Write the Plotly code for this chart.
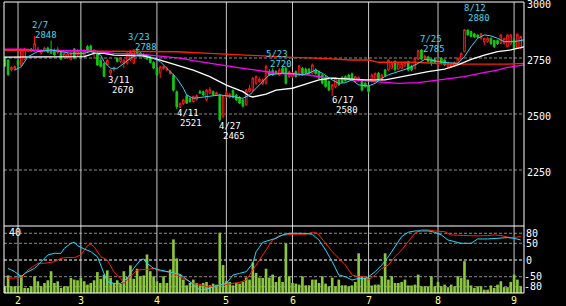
import plotly.graph_objects as go

# ---------------- data ----------------
open_ = [2752,2741,2697,2700,2740,2716,2745,2780,2790,2780,2780,2772,2785,2795,2788,2786,2775,2775,2752,2750,
         2742,2790,2764,2788,2760,2801,2804,2772,2772,2740,2725,2720,2682,2697,2749,2734,2726,2727,2741,2727,
         2785,2772,2765,2760,2750,2730,2705,2682,2703,2696,2680,2672,2600,2530,2546,2582,2570,2555,2565,2600,
         2600,2563,2593,2600,2585,2585,2488,2578,2575,2605,2585,2574,2563,2541,2600,2607,2637,2645,2635,2637,
         2690,2694,2690,2674,2704,2704,2667,2665,2689,2674,2704,2700,2700,2682,2697,2689,2674,2664,2645,2610,
         2622,2652,2664,2667,2674,2679,2645,2650,2645,2637,2625,2645,2645,2682,2652,2697,2697,2704,2734,2700,
         2704,2715,2734,2712,2704,2745,2786,2752,2755,2744,2744,2719,2749,2741,2712,2710,2715,2727,2745,2779,
         2875,2868,2858,2853,2838,2823,2823,2838,2828,2828,2816,2816,2801,2813,2831,2794,2794]
high_ = [2758,2745,2712,2716,2745,2790,2795,2792,2795,2848,2800,2790,2800,2800,2828,2792,2800,2780,2775,2772,
         2778,2795,2790,2831,2790,2808,2810,2790,2776,2745,2730,2745,2700,2712,2752,2752,2745,2776,2785,2788,
         2788,2778,2772,2765,2755,2735,2710,2715,2716,2712,2695,2680,2605,2550,2568,2588,2575,2582,2588,2608,
         2605,2612,2620,2605,2600,2590,2585,2605,2595,2610,2590,2580,2566,2612,2630,2665,2672,2665,2660,2720,
         2700,2704,2695,2705,2712,2712,2695,2688,2695,2720,2710,2708,2705,2725,2704,2694,2680,2670,2650,2635,
         2665,2658,2668,2672,2680,2685,2670,2668,2650,2642,2630,2680,2685,2688,2680,2700,2745,2735,2740,2732,
         2730,2735,2738,2720,2752,2785,2790,2765,2760,2748,2750,2748,2752,2745,2730,2728,2735,2752,2775,2880,
         2878,2872,2862,2856,2862,2840,2845,2842,2832,2832,2856,2840,2856,2856,2838,2860,2850]
low_ = [2710,2670,2690,2695,2712,2712,2740,2776,2778,2776,2776,2765,2780,2772,2768,2760,2770,2740,2748,2745,
        2740,2745,2758,2752,2752,2776,2775,2748,2715,2708,2665,2715,2670,2690,2730,2728,2704,2720,2735,2722,
        2770,2758,2752,2740,2725,2700,2670,2660,2698,2690,2675,2600,2521,2526,2540,2545,2550,2550,2560,2590,
        2582,2558,2588,2582,2580,2465,2480,2572,2570,2570,2558,2545,2530,2536,2596,2600,2630,2640,2630,2632,
        2670,2670,2678,2670,2678,2632,2660,2660,2662,2668,2670,2678,2680,2678,2676,2656,2632,2618,2602,2580,
        2615,2626,2638,2645,2652,2648,2640,2645,2600,2618,2590,2640,2640,2650,2648,2668,2690,2700,2690,2695,
        2700,2710,2690,2690,2700,2740,2740,2745,2730,2715,2725,2712,2722,2715,2708,2705,2712,2722,2740,2775,
        2850,2842,2840,2838,2832,2808,2818,2810,2795,2808,2812,2810,2798,2808,2790,2790,2790]
close_ = [2714,2676,2708,2712,2718,2786,2788,2788,2782,2815,2790,2785,2795,2776,2772,2764,2790,2745,2770,2768,
          2770,2750,2784,2758,2782,2780,2780,2786,2719,2712,2668,2740,2697,2705,2734,2749,2740,2771,2779,2785,
          2772,2760,2755,2745,2730,2705,2674,2710,2712,2704,2690,2606,2532,2548,2563,2548,2555,2578,2582,2593,
          2585,2607,2610,2585,2596,2474,2580,2593,2588,2575,2563,2548,2535,2607,2615,2660,2667,2656,2652,2712,
          2674,2674,2682,2697,2682,2637,2689,2682,2667,2715,2674,2682,2682,2719,2680,2660,2637,2622,2607,2630,
          2660,2630,2642,2649,2656,2652,2667,2663,2607,2622,2600,2674,2682,2652,2674,2672,2741,2727,2697,2727,
          2725,2730,2697,2697,2749,2782,2745,2758,2734,2727,2730,2744,2727,2719,2727,2723,2730,2749,2771,2876,
          2853,2846,2843,2843,2858,2838,2838,2813,2800,2813,2853,2838,2853,2853,2794,2856,2846]
volume = [4,10.5,4,4,4,10.5,3,3,4,10,7,4,6,7.6,13,6,7,3,4,4,
          9,8,7.6,9,7,5,6,7.6,12.5,8.5,11,13.5,9,6,7.6,5.5,13,9.5,16.5,8.5,
          14.5,10,10.5,23,13,10,7,6,10,6,14,32,20.7,11,8,4.6,6,8,6,4.6,
          6,6.6,4.6,5.6,5,36,16.7,7,6.6,4.6,6,5.6,6.6,9.2,8,18.3,12,9.2,9,14.5,
          9.2,11,6.6,9.6,6.6,29.6,10,6,5.6,5,10,4.6,4.6,8,8,6,10,5.6,4,9.2,
          4,8,4.6,4.6,4,4.6,6.6,23.7,10,9.2,9,4.5,5,5,10,23.7,8,10,6,6,
          6.6,8,4.5,4.5,5,11,4,4,4,10,4,6.6,4,5,3.5,5,4,10,9,19,
          8,4.5,3,4,4,2,2,4.5,3,5,7,3.5,3.5,6.6,11,8,4]

# moving averages (trading-day index, price)
ma_white_idx = [0,24,27,30,33,38,42,47,52,57,62,67,72,74,75,79,82,87,90,95,99,105,109,115,119,124,128,133,137,141,145,149,153,157]
ma_white = [2754,2756,2771,2771,2763,2763,2760,2741,2719,2696,2667,2629,2600,2580,2576,2589,2607,2615,2629,2652,
            2660,2656,2652,2652,2664,2679,2689,2700,2719,2744,2763,2778,2786,2800]
ma_magenta_idx = [0,6,10,24,28,33,40,44,48,53,57,62,72,76,82,92,96,105,112,119,125,130,134,139,144,149,152,157]
ma_magenta = [2789,2789,2783,2783,2779,2771,2768,2763,2756,2749,2738,2726,2704,2696,2682,2674,2664,2652,2644,2637,
              2640,2649,2656,2667,2682,2696,2708,2719]
ma_red_idx = [0,30,52,62,72,80,87,94,100,105,110,113,124,134,152,157]
ma_red = [2784,2782,2778,2771,2763,2756,2753,2749,2744,2741,2741,2731,2731,2723,2723,2726]
ma_cyan_idx = [3,5,7,10,14,17,20,24,26,29,30,32,34,36,38,40,42,44,47,49,52,54,55,57,62,65,69,72,74,76,
               78,80,84,86,90,92,94,96,99,101,103,105,107,110,112,114,116,119,122,125,127,129,131,134,137,139,
               141,143,145,147,149,151,154,157]
ma_cyan = [2696,2711,2756,2779,2786,2779,2771,2771,2779,2763,2734,2704,2704,2726,2749,2763,2763,2756,2734,2704,
           2660,2615,2585,2570,2580,2585,2578,2570,2585,2615,2645,2675,2682,2682,2675,2682,2697,2682,2652,2637,
           2640,2652,2630,2625,2637,2660,2675,2689,2704,2726,2744,2741,2734,2729,2726,2756,2801,2838,2853,2849,
           2838,2823,2823,2831]

# oscillator lines (trading-day index, value)
osc_k_idx = [1,3,5,6,7,9,11,13,15,17,18,20,21,22,24,26,28,29,31,33,35,37,39,41,42,43,45,47,49,51,
             53,55,57,59,61,63,65,67,69,71,73,75,76,78,80,82,84,86,88,90,93,95,97,99,101,103,105,107,109,110,
             112,114,116,118,120,122,124,126,128,130,132,134,136,138,141,143,146,149,152,154,156]
osc_k = [-25,-35,-50,-40,-35,-25,-5,15,20,20,35,50,53,43,33,25,10,-15,-65,-70,
         -70,-55,-25,0,3,-10,-25,-30,-35,-40,-43,-58,-75,-90,-87,-80,-75,-70,-45,-40,
         -35,-10,25,53,60,65,75,80,80,80,77,60,30,-5,-45,-50,-60,-55,-55,-50,
         -35,-15,10,40,70,83,87,87,87,83,75,60,55,50,50,63,63,65,67,65,60]
osc_d_idx = [1,5,7,9,10,12,15,17,19,21,23,25,26,27,29,31,33,35,36,38,40,43,45,47,49,51,53,55,57,59,
             61,63,65,67,69,71,73,75,77,79,81,83,85,87,91,93,94,95,97,99,101,103,105,107,109,110,112,114,116,118,
             120,122,124,126,128,130,133,135,140,143,146,148,150,153,156]
osc_d = [-55,-53,-30,-17,-10,-10,-5,5,8,7,15,43,47,40,10,0,-35,-55,-70,-50,
         -30,-28,-25,-33,-35,-40,-50,-62,-70,-73,-80,-80,-75,-73,-70,-67,-60,-30,0,30,
         60,73,75,77,77,83,83,75,50,25,5,-15,-45,-50,-50,-60,-45,-25,-15,10,
         30,55,80,90,90,87,85,75,73,72,73,75,73,67,70]

# axis labels
month_idx = [4, 23, 46, 67, 87, 110, 131, 154]
month_labels = ["2", "3", "4", "5", "6", "7", "8", "9"]
price_ticks = [2250, 2500, 2750, 3000]
osc_ticks = [80, 50, 0, -50, -80]
osc_tick_labels = ["80", "50", "0", "-50", "-80"]
vol_label = "40"

# high / low marks
hl_dates = ["2/7", "3/11", "3/23", "4/11", "4/27", "5/23", "6/17", "7/25", "8/12"]
hl_prices = [2848, 2670, 2788, 2521, 2465, 2720, 2580, 2785, 2880]
hl_is_high = [True, False, True, False, False, True, False, True, True]

# ---------------- figure ----------------
days = list(range(len(close_)))
MONO = "DejaVu Sans Mono"
CYAN_TXT = "#40d8f0"

fig = go.Figure()
fig.add_trace(go.Candlestick(
    x=days, open=open_, high=high_, low=low_, close=close_,
    increasing=dict(line=dict(color="#ff1a1a", width=1), fillcolor="#000000"),
    decreasing=dict(line=dict(color="#14c814", width=1), fillcolor="#14c814"),
    whiskerwidth=0, xaxis="x", yaxis="y", hoverinfo="skip"))
for idx, vals, col, w in [(ma_red_idx, ma_red, "#ff2200", 1.3),
                          (ma_magenta_idx, ma_magenta, "#ff00ff", 1.3),
                          (ma_white_idx, ma_white, "#ffffff", 1.3),
                          (ma_cyan_idx, ma_cyan, "#30d8f0", 1)]:
    fig.add_trace(go.Scatter(x=idx, y=vals, mode="lines", line=dict(color=col, width=w),
                             xaxis="x", yaxis="y", hoverinfo="skip"))

fig.add_trace(go.Bar(x=days, y=volume, width=0.8, marker=dict(color="#8cc63f", line=dict(width=0)),
                     xaxis="x", yaxis="y2", hoverinfo="skip"))
fig.add_trace(go.Scatter(x=osc_d_idx, y=osc_d, mode="lines", line=dict(color="#ff2200", width=1),
                         xaxis="x", yaxis="y3", hoverinfo="skip"))
fig.add_trace(go.Scatter(x=osc_k_idx, y=osc_k, mode="lines", line=dict(color="#22dcff", width=1),
                         xaxis="x", yaxis="y3", hoverinfo="skip"))

split = 67 / 291
hidden = dict(showgrid=False, zeroline=False, showticklabels=False, ticks="", showline=False, fixedrange=True)
fig.update_layout(
    width=566, height=306, margin=dict(l=4, r=42, t=2, b=13),
    paper_bgcolor="#000000", plot_bgcolor="#000000", showlegend=False,
    xaxis=dict(range=[-0.24, 157.0], rangeslider=dict(visible=False), **hidden),
    yaxis=dict(domain=[split, 1], range=[2000, 3000], **hidden),
    yaxis2=dict(domain=[0, split], range=[0, 40], **hidden),
    yaxis3=dict(domain=[0, split], range=[-98.8, 101.8], overlaying="y2", **hidden),
)

shapes = []
for p in price_ticks[:-1]:
    shapes.append(dict(type="line", xref="paper", x0=0, x1=1, yref="y", y0=p, y1=p,
                       line=dict(color="#8c8c8c", width=1, dash="3px,2px"), layer="below"))
for v in osc_ticks:
    shapes.append(dict(type="line", xref="paper", x0=0, x1=1, yref="y3", y0=v, y1=v,
                       line=dict(color="#ffffff" if v == 0 else "#8c8c8c", width=1, dash="3px,2px"),
                       layer="below"))
for m in month_idx:
    shapes.append(dict(type="line", xref="x", x0=m, x1=m, yref="paper", y0=0, y1=1,
                       line=dict(color="#c8c8c8", width=1), layer="below"))
shapes.append(dict(type="rect", xref="paper", x0=0, x1=1, yref="paper", y0=0, y1=1,
                   line=dict(color="#ffffff", width=1), layer="above"))
shapes.append(dict(type="line", xref="paper", x0=0, x1=1, yref="paper", y0=split, y1=split,
                   line=dict(color="#ffffff", width=1), layer="above"))
fig.update_layout(shapes=shapes)

ann = []
for p in price_ticks:
    ann.append(dict(text=str(p), xref="paper", x=1, xanchor="left", xshift=1, yref="y", y=p,
                    yanchor="middle", yshift=-2, showarrow=False,
                    font=dict(family=MONO, size=10, color="#ffffff")))
for v, t in zip(osc_ticks, osc_tick_labels):
    ann.append(dict(text=t, xref="paper", x=1, xanchor="left", xshift=1 if v >= 0 else -1, yref="y3", y=v,
                    yanchor="middle", showarrow=False, borderpad=0,
                    font=dict(family=MONO, size=10, color="#ffffff")))
ann.append(dict(text=vol_label, xref="paper", x=0, xanchor="left", xshift=3, yref="y2", y=40,
                yanchor="top", yshift=1, showarrow=False, font=dict(family=MONO, size=10, color="#ffffff")))
for m, t in zip(month_idx, month_labels):
    ann.append(dict(text=t, xref="x", x=m, xanchor="center", yref="paper", y=0, yanchor="top",
                    yshift=0, showarrow=False, font=dict(family=MONO, size=10, color="#ffff88")))

date_pos = [(10.64, 2899), (34.53, 2654), (40.58, 2846), (55.25, 2505), (68.1, 2448),
            (82.46, 2770), (102.27, 2563), (128.88, 2835), (142.33, 2972)]
price_pos = [(12.46, 2854), (35.65, 2606), (42.7, 2798), (56.3, 2458), (69.16, 2404),
             (83.5, 2724), (103.57, 2516), (129.79, 2790), (143.48, 2927)]
for d, p, hi, dp, pp in zip(hl_dates, hl_prices, hl_is_high, date_pos, price_pos):
    col = CYAN_TXT if hi else "#ffffff"
    ann.append(dict(text=d, x=dp[0], y=dp[1], xref="x", yref="y", showarrow=False, borderpad=0,
                    xanchor="center", yanchor="middle", font=dict(family=MONO, size=9, color=col)))
    ann.append(dict(text=str(p), x=pp[0], y=pp[1], xref="x", yref="y", showarrow=False, borderpad=0,
                    xanchor="center", yanchor="middle", font=dict(family=MONO, size=9, color=col)))
fig.update_layout(annotations=ann)

fig.write_html("out.html", config={"displayModeBar": False})
